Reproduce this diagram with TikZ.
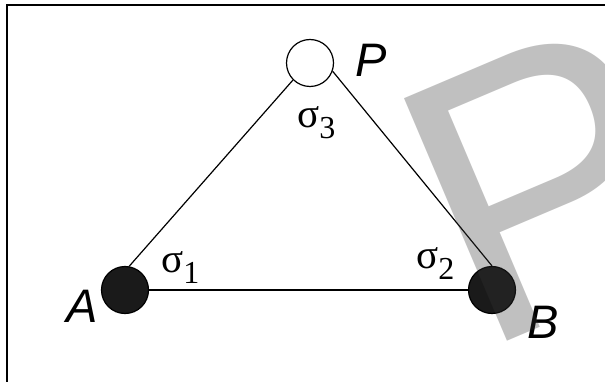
\documentclass[tikz,border=0pt]{standalone}
\usepackage{fontspec}
\setmainfont{Liberation Serif}
\newfontfamily\labelfont{Liberation Sans}
\usepackage{tikz}
\definecolor{dotBlack}{HTML}{1A1A1A}
\definecolor{markGray}{HTML}{343434}
\newcommand{\sig}[1]{{\fontsize{41}{41}\selectfont σ}\raisebox{-11pt}{\fontsize{32}{32}\selectfont #1}}

\begin{document}
\begin{tikzpicture}[
    x=1pt, y=-1pt,
    dot/.style={circle, draw=black, line width=1.2pt, minimum size=47pt, inner sep=0pt},
    vlabel/.style={font=\labelfont\itshape\fontsize{47}{47}\selectfont, inner sep=0pt, anchor=base},
    angle/.style={inner sep=0pt, anchor=base west},
    edge/.style={line width=1.2pt},
    base/.style={line width=2pt}
]
\useasboundingbox (0,0) rectangle (605,382);
\clip (0,0) rectangle (605,382);

% Frame.
\draw[line width=2pt] (6.5,5.5) rectangle (700,500);

% Three points.
\node[dot, fill=dotBlack] (nA) at (125,290) {};
\node[dot, fill=dotBlack] (nB) at (492,290) {};
\node[dot, fill=white] (nP) at (310,63) {};

\draw[edge] (nA.80) -- (nP.225);
\draw[edge] (nP.-20) -- (nB.90);
\draw[base] (nA.east) -- (nB.west);

\node[vlabel] (lA) at (82,322) {A};
\node[vlabel] (lB) at (543,338) {B};
\node[vlabel] (lP) at (371,77) {P};

\node[angle] (s1) at (161,272) {\sig{1}};
\node[angle] (s2) at (416,268) {\sig{2}};
\node[angle] (s3) at (297,128) {\sig{3}};

% Watermark.
\node[rotate=23, anchor=base west, inner sep=0pt, text=markGray, text opacity=0.31,
      font=\labelfont\fontsize{383}{383}\selectfont] (bigP) at (478,353.5) {P};
\end{tikzpicture}
\end{document}
